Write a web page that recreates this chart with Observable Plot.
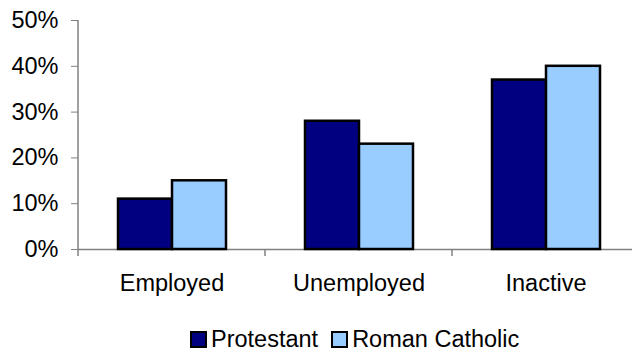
<!DOCTYPE html>
<html><head><meta charset="utf-8">
<script src="https://cdn.jsdelivr.net/npm/d3@7"></script>
<script src="https://cdn.jsdelivr.net/npm/@observablehq/plot@0.6"></script>
<style>
html,body{margin:0;padding:0;background:#fff;overflow:hidden;}
#chart{width:632px;height:353px;position:relative;font-family:"Liberation Sans",Arial,sans-serif;}
#chart svg{display:block;}
.legend{display:flex;align-items:center;height:23px;line-height:23px;font-size:23.5px;color:#000;padding-left:190px;margin-top:-2px;}
.item{display:flex;align-items:center;margin-right:13px;}
.sw{width:13px;height:13px;border:2px solid #000;margin-right:4px;box-sizing:content-box;}
</style></head><body><div id="chart"></div>
<script>
const categories = ["Employed", "Unemployed", "Inactive"];
const series = ["Protestant", "Roman Catholic"];
const protestant = [0.11, 0.28, 0.37];
const romanCatholic = [0.15, 0.23, 0.40];
const colors = ["#000080", "#99CCFF"];
const yTicks = [0, 0.1, 0.2, 0.3, 0.4, 0.5];

const data = categories.flatMap((c, i) => [
  {category: c, series: series[0], value: protestant[i]},
  {category: c, series: series[1], value: romanCatholic[i]}
]);

const plot = Plot.plot({
  width: 632, height: 330,
  marginTop: 20, marginBottom: 81, marginLeft: 78, marginRight: -7,
  style: {fontFamily: '"Liberation Sans", Arial, sans-serif', fontSize: "23.5px", background: "#fff", color: "#000"},
  fx: {domain: categories, padding: 0, label: null},
  x: {domain: series, paddingInner: 0, paddingOuter: 0.716, axis: null},
  y: {domain: [0, 0.5], label: null},
  color: {domain: series, range: colors},
  marks: [
    Plot.ruleY([0], {stroke: "#808080", strokeWidth: 1.5}),
    Plot.barY(data, {fx: "category", x: "series", y: "value", fill: "series", stroke: "#000", strokeWidth: 2.5}),
    Plot.axisY({ticks: yTicks, tickFormat: d3.format(".0%"), tickSize: 7, tickPadding: 13, stroke: "#808080", fill: "#000", fontSize: 23.5, label: null}),
    Plot.axisFx({anchor: "bottom", tickSize: 0, tickPadding: 25, fontSize: 23.5, fill: "#000", label: null})
  ]
});

// boundary ticks and y-axis line from the library's own scales
const fx = plot.scale("fx"), y = plot.scale("y");
const svg = d3.select(plot);
const y0 = y.apply(0), yTop = y.apply(0.5);
const bounds = categories.map(c => fx.apply(c)).concat([fx.apply(categories[categories.length - 1]) + fx.bandwidth]);
const g = svg.insert("g", ":first-child").attr("stroke", "#808080").attr("stroke-width", 1.5);
bounds.forEach(b => g.append("line").attr("x1", b).attr("x2", b).attr("y1", y0).attr("y2", y0 + 7));
g.append("line").attr("x1", bounds[0]).attr("x2", bounds[0]).attr("y1", yTop).attr("y2", y0);
const chart = document.getElementById("chart");
chart.appendChild(plot);

const legend = document.createElement("div");
legend.className = "legend";
series.forEach((s, i) => {
  const item = document.createElement("div");
  item.className = "item";
  const sw = document.createElement("div");
  sw.className = "sw";
  sw.style.background = colors[i];
  const t = document.createElement("span");
  t.textContent = s;
  item.appendChild(sw); item.appendChild(t);
  legend.appendChild(item);
});
chart.appendChild(legend);
</script></body></html>
